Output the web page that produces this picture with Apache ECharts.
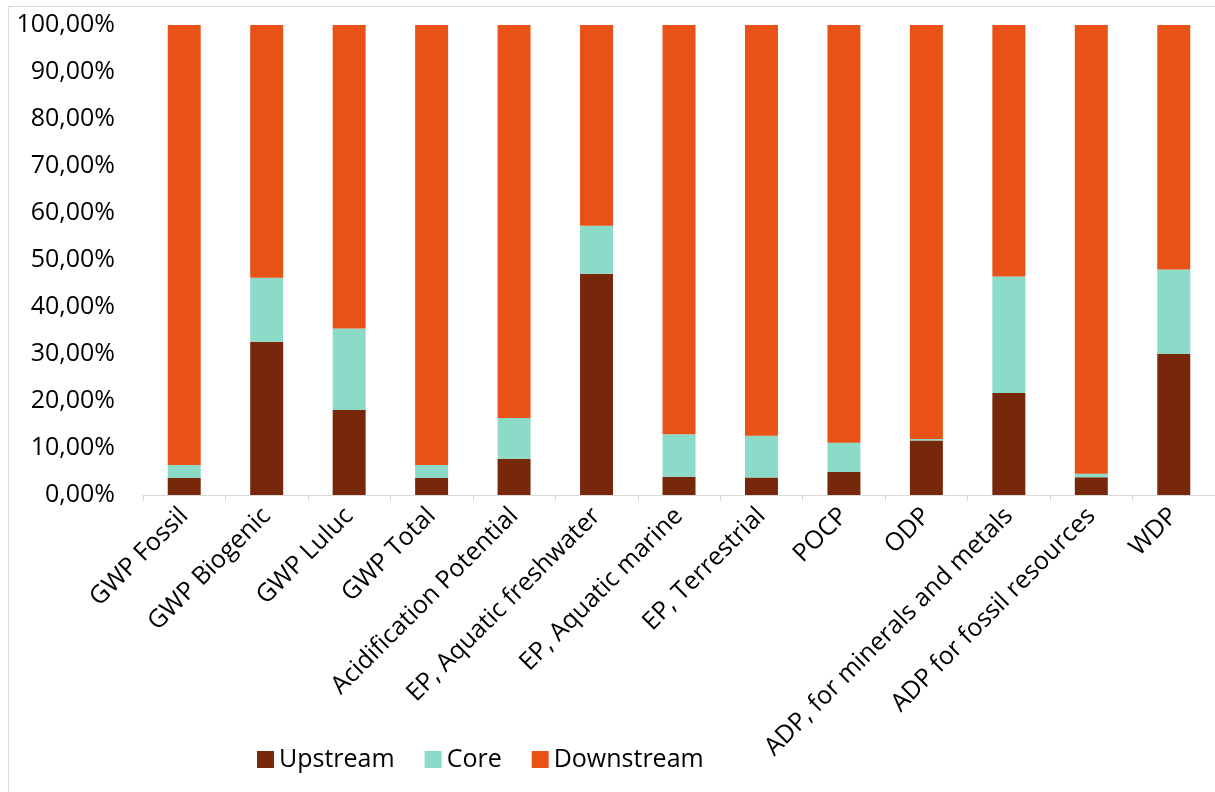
<!DOCTYPE html>
<html>
<head>
<meta charset="utf-8">
<script src="https://cdn.jsdelivr.net/npm/echarts@6/dist/echarts.min.js"></script>
<style>
	html,body{margin:0;padding:0;background:#fff;}
	#main{width:1215px;height:792px;}
</style>
</head>
<body>
<div id="main"></div>
<script>
var categories = ["GWP Fossil","GWP Biogenic","GWP Luluc","GWP Total","Acidification Potential","EP, Aquatic freshwater","EP, Aquatic marine","EP, Terrestrial","POCP","ODP","ADP, for minerals and metals","ADP for fossil resources","WDP"];
var upstream = [3.6, 32.6, 18.1, 3.6, 7.7, 47.1, 3.9, 3.7, 4.9, 11.6, 21.7, 3.8, 30.0];
var core = [2.8, 13.6, 17.3, 2.8, 8.7, 10.2, 9.0, 8.9, 6.2, 0.3, 24.8, 0.7, 18.0];
var downstream = [93.6, 53.8, 64.6, 93.6, 83.6, 42.7, 87.1, 87.4, 88.9, 88.1, 53.5, 95.5, 52.0];
var yTicks = [0, 10, 20, 30, 40, 50, 60, 70, 80, 90, 100];

var fontName = "Open Sans";
var textColor = "#000";
var myChart = echarts.init(document.getElementById("main"));

function barSeries(name, data, color){
	return {
		name: name,
		type: "bar",
		stack: "total",
		barWidth: "40%",
		data: data,
		itemStyle: {color: color}
	};
}

var option = {
	animation: false,
	textStyle: {fontFamily: fontName},
	graphic: [{
		type: "rect",
		shape: {x: 8.5, y: 6.5, width: 1215, height: 800},
		style: {fill: "none", stroke: "#d9d9d9", lineWidth: 1}
	}],
	legend: {
		left: 252,
		top: 742,
		itemWidth: 17,
		itemHeight: 17,
		itemGap: 30,
		icon: "rect",
		textStyle: {fontSize: 25, color: textColor, fontFamily: fontName},
		data: ["Upstream", "Core", "Downstream"]
	},
	grid: {
		left: 143,
		right: -3,
		top: 25,
		bottom: 297
	},
	xAxis: {
		type: "category",
		data: categories,
		axisLine: {lineStyle: {color: "#d9d9d9", width: 1}},
		axisTick: {show: true, length: 6, lineStyle: {color: "#d9d9d9"}},
		axisLabel: {
			rotate: 45,
			interval: 0,
			margin: 17,
			fontSize: 25,
			color: textColor,
			fontFamily: fontName
		}
	},
	yAxis: {
		type: "value",
		min: 0,
		max: 100,
		interval: 10,
		splitLine: {show: false},
		axisLine: {show: false},
		axisTick: {show: false},
		axisLabel: {
			margin: 28,
			fontSize: 25,
			color: textColor,
			fontFamily: fontName,
			formatter: function(v){
				return yTicks.indexOf(v) >= 0 ? v.toFixed(2).replace(".", ",") + "%" : "";
			}
		}
	},
	series: [
		barSeries("Upstream", upstream, "#77270a"),
		barSeries("Core", core, "#8cdbc9"),
		barSeries("Downstream", downstream, "#e85216")
	]
};
myChart.setOption(option);
</script>
</body>
</html>
